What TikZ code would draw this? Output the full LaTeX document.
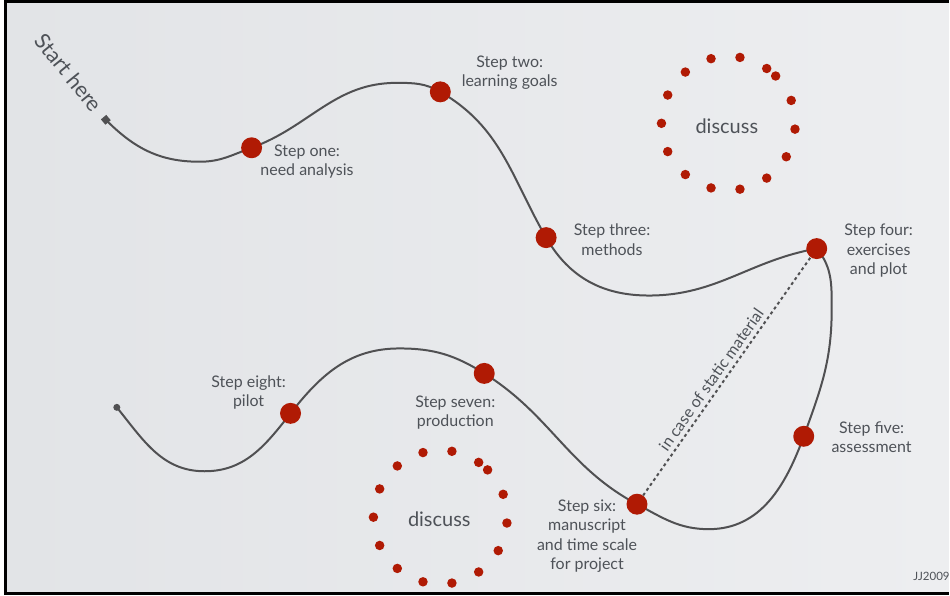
\documentclass[tikz,border=0pt]{standalone}
\usepackage{fontspec}
\setmainfont{Lato}
\definecolor{bg}{RGB}{232,234,237}
\definecolor{dotred}{RGB}{176,26,4}
\definecolor{linegray}{RGB}{80,80,82}
\definecolor{txt}{RGB}{78,82,88}
\begin{document}
\begin{tikzpicture}[x=1pt,y=1pt,
  stepdot/.style={circle, fill=dotred, minimum size=21pt, inner sep=0pt},
  smalldot/.style={circle, fill=dotred, minimum size=9.5pt, inner sep=0pt},
  lbl/.style={text=txt, font=\fontsize{16}{19.5}\selectfont, align=center, inner sep=0pt},
  disc/.style={text=txt, font=\fontsize{20}{24}\selectfont, inner sep=0pt},
  route/.style={draw=linegray, line width=2pt},
  dashline/.style={draw=linegray, line width=2pt, dash pattern=on 3pt off 3pt}]
% background and frame
\fill[white] (0,0) rectangle (950,-596);
\shade[left color={rgb,255:red,226;green,228;blue,231}, right color={rgb,255:red,237;green,238;blue,240}] (7,-3) rectangle (950,-593);
\draw[black, line width=3pt] (950,-2) -- (5.5,-2) -- (5.5,-594.5) -- (950,-594.5);
\useasboundingbox (0,0) rectangle (950,-596);
% curve coordinates
\coordinate (S) at (106,-120);
\coordinate (m1) at (200,-162);
\coordinate (d1) at (252,-148);
\coordinate (p1) at (397,-83);
\coordinate (d2) at (441,-92);
\coordinate (d3) at (547,-238);
\coordinate (m2) at (650,-296);
\coordinate (d4) at (818,-249);
\coordinate (r) at (833,-310);
\coordinate (d5) at (805,-437);
\coordinate (b) at (710,-530);
\coordinate (d6) at (638,-505);
\coordinate (d7) at (485,-374);
\coordinate (p2) at (400,-349);
\coordinate (d8) at (291,-414);
\coordinate (m3) at (205,-472);
\coordinate (E) at (117,-408);
\draw[route] (S) to[out=-45,in=180] (m1) to[out=0,in=200] (d1)
  to[out=20,in=180] (p1) to[out=0,in=150] (d2)
  to[out=-30,in=120] (d3) to[out=-60,in=180] (m2)
  to[out=0,in=190] (d4) to[out=-50,in=90] (r)
  to[out=-90,in=70] (d5) to[out=-110,in=0] (b)
  to[out=180,in=-28] (d6) to[out=152,in=-32] (d7)
  to[out=148,in=0] (p2) to[out=180,in=52] (d8)
  to[out=-128,in=0] (m3) to[out=180,in=-51] (E);
% start and end markers
\node[fill=linegray, minimum size=7pt, inner sep=0pt, rotate=40] (startsq) at (S) {};
\node[circle, fill=linegray, minimum size=7pt, inner sep=0pt] (enddot) at (E) {};
% step dots
\node[stepdot] (s1) at (d1) {};
\node[stepdot] (s2) at (d2) {};
\node[stepdot] (s3) at (d3) {};
\node[stepdot] (s4) at (d4) {};
\node[stepdot] (s5) at (d5) {};
\node[stepdot] (s6) at (d6) {};
\node[stepdot] (s7) at (d7) {};
\node[stepdot] (s8) at (d8) {};
% dashed shortcut
\draw[dashline] (s6) -- (s4) node[pos=0.46, sloped, above, lbl, inner sep=4pt] (static) {in case of static material};
% labels
\node[lbl, rotate=-51, font=\fontsize{21.5}{24}\selectfont] (start) at (69,-73) {Start here};
\node[lbl] (l1) at (307.5,-162) {Step one:\\need analysis};
\node[lbl] (l2) at (510.5,-73) {Step two:\\learning goals};
\node[lbl] (l3) at (613,-240) {Step three:\\methods};
\node[lbl] (l4) at (880,-251) {Step four:\\exercises\\and plot};
\node[lbl] (l5) at (873,-438) {Step five:\\assessment};
\node[lbl] (l6) at (588,-537) {Step six:\\manuscript\\and time scale\\for project};
\node[lbl] (l7) at (456,-413) {Step seven:\\production};
\node[lbl] (l8) at (249,-393) {Step eight:\\pilot};
% discuss circles
\coordinate (c1) at (729.5,-123.5);
\coordinate (c2) at (441,-518);
\node[disc] (disc1) at (728,-126) {discuss};
\node[disc] (disc2) at (440,-520) {discuss};
\foreach \a in {20,-5,...,-305} {
  \node[smalldot] at ([shift={(\a:67)}]c1) {};
  \node[smalldot] at ([shift={(\a:67)}]c2) {};
}
\node[smalldot] at ([shift={(45:67)}]c1) {};
\node[smalldot] at ([shift={(45:67)}]c2) {};
% signature
\node[text=txt, font=\fontsize{11.5}{13}\selectfont, inner sep=0pt] (sig) at (933,-577) {JJ2009};
\end{tikzpicture}
\end{document}
